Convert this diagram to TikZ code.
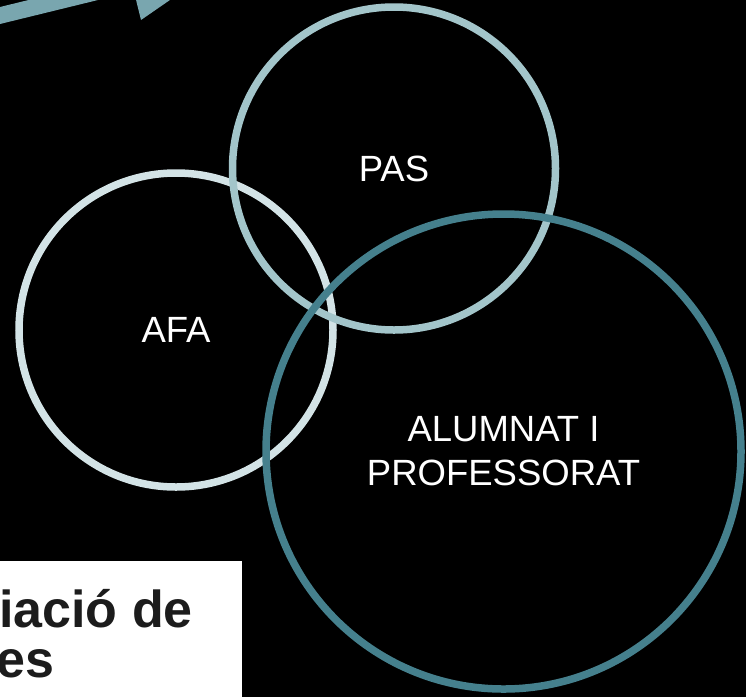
\documentclass[tikz,border=0pt]{standalone}
\usepackage{fontspec}
\setmainfont{Liberation Sans}
\definecolor{arrowteal}{HTML}{79A6AF}
\definecolor{ringlight}{HTML}{D3E3E6}
\definecolor{ringmid}{HTML}{A3C5CA}
\definecolor{ringdark}{HTML}{45808D}
\definecolor{boxtext}{HTML}{1C1C1C}
\tikzset{
  ring/.style={circle, draw=#1, line width=7.5pt, text=white,
    font=\fontsize{36.5}{44}\selectfont, align=center, inner sep=0pt},
  boxlabel/.style={anchor=base west, inner sep=0pt, text=boxtext,
    font=\fontsize{52}{50}\selectfont\bfseries},
}
\begin{document}
\begin{tikzpicture}[x=1pt,y=-1pt]
\useasboundingbox (0,0) rectangle (746,697);
\fill[black] (0,0) rectangle (746,697);
\clip (0,0) rectangle (746,697);
% arrow (mostly off-canvas)
\fill[arrowteal] (-20,28.9) -- (133.9,-8.8) -- (141,20) -- (228.6,-40.5)
  -- (120,-60) -- (60,-7.7) -- (-20,11.9) -- cycle;
% circles
\node[ring=ringlight, minimum size=314pt] (afa) at (176,330) {AFA};
\node[ring=ringmid, minimum size=323pt] (pas) at (394,168.5) {PAS};
\node[ring=ringdark, minimum size=475pt] (alumnat) at (503.5,451.5) {ALUMNAT I\\PROFESSORAT};
% white box with cut text
\fill[white] (0,561) rectangle (242,700);
\node[boxlabel] (line1) at (-1,627) {iació de};
\node[boxlabel] (line2) at (-4,677) {es};
\end{tikzpicture}
\end{document}
